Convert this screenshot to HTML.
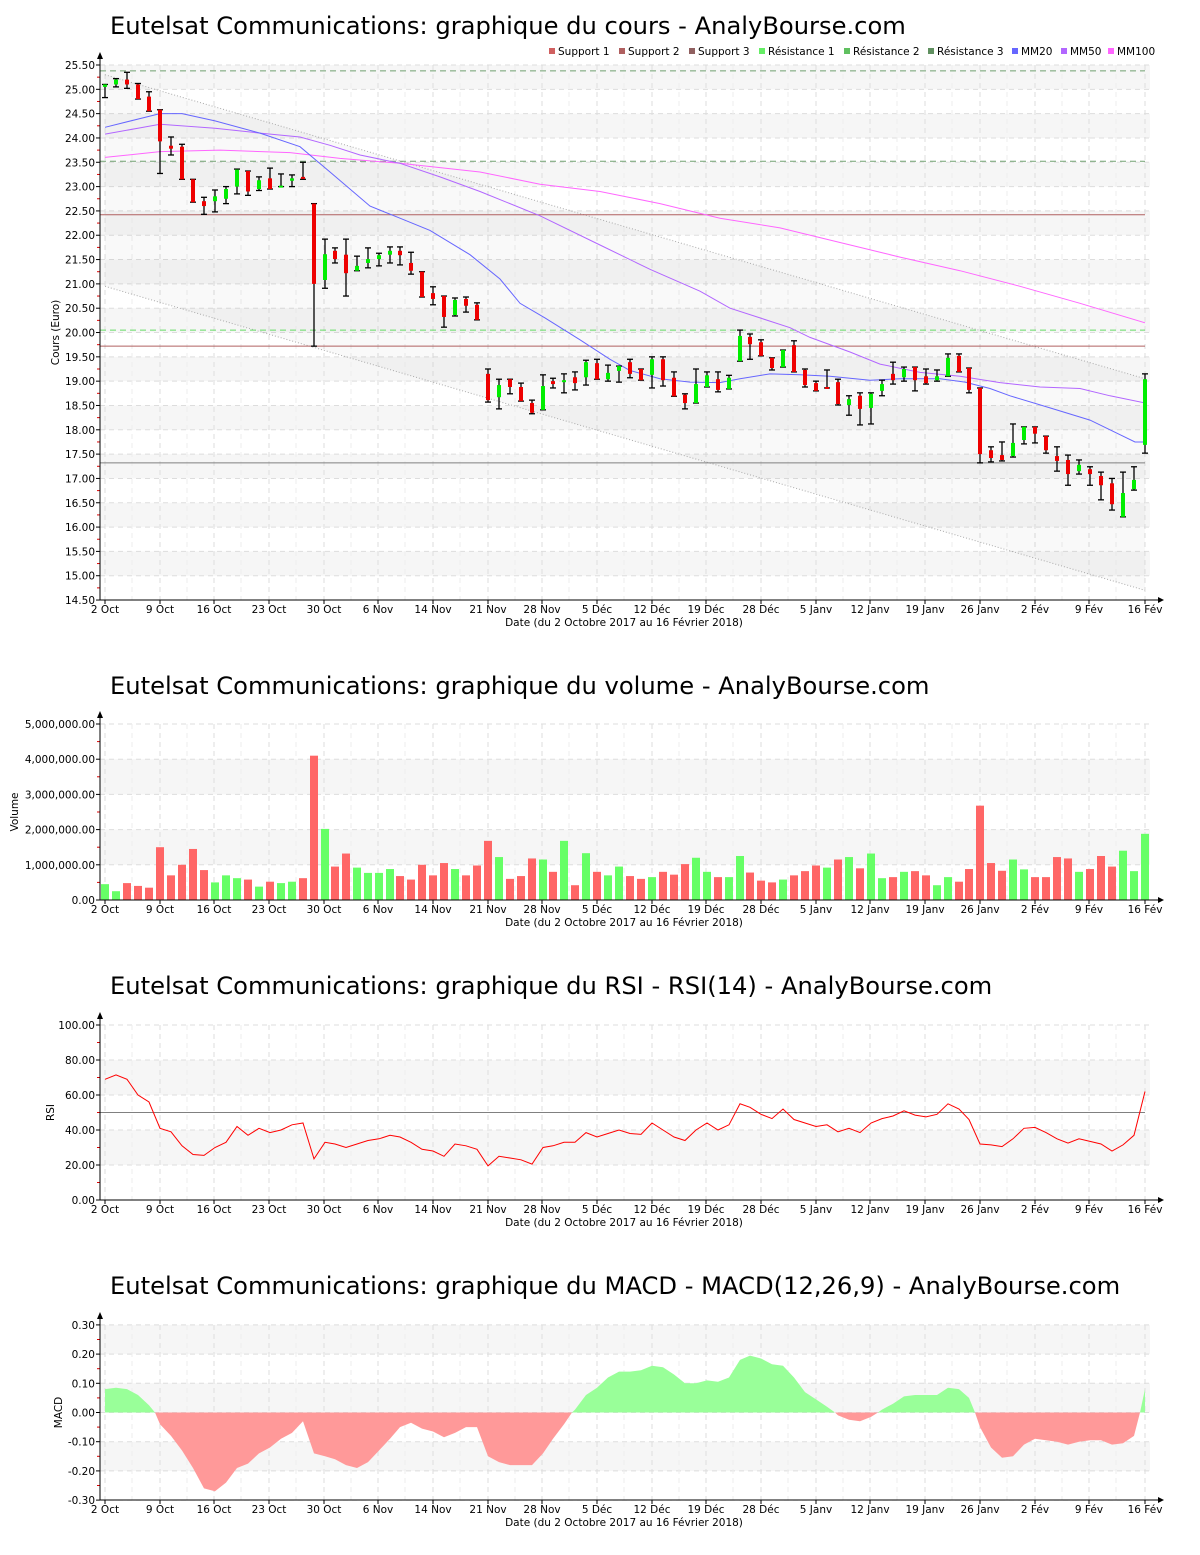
<!DOCTYPE html>
<html><head><meta charset="utf-8"><style>
body{margin:0;background:#fff;width:1200px;height:1550px;overflow:hidden}
svg{font-family:"DejaVu Sans","Liberation Sans",sans-serif}
</style></head><body>
<svg id="s" width="1200" height="1550" xmlns="http://www.w3.org/2000/svg"></svg>
<script>
const S=document.getElementById('s');let h='';
const X0=100,X1=1150;
const dx=[105,160,214,269,324,378,433,488,542,597,652,706,761,816,870,925,980,1035,1089,1145];
const dl=['2 Oct','9 Oct','16 Oct','23 Oct','30 Oct','6 Nov','14 Nov','21 Nov','28 Nov','5 Déc','12 Déc','19 Déc','28 Déc','5 Janv','12 Janv','19 Janv','26 Janv','2 Fév','9 Fév','16 Fév'];
function panel(top,bot,ylab,ticks,lx,band,title,ty,minorTicks){
  h+=`<text x="110" y="${ty}" font-size="24.2" fill="#000">${title}</text>`;
  for(let i=0;i<band.length;i++){const b=band[i];h+=`<rect x="${X0}" y="${b[0]}" width="${X1-X0}" height="${b[1]-b[0]}" fill="#f6f6f6"/>`;}
  ticks.forEach(t=>{h+=`<line x1="${X0}" x2="${X1}" y1="${t[0]}" y2="${t[0]}" stroke="#ddd" stroke-dasharray="5,4"/>`;
    h+=`<line x1="96" x2="100" y1="${t[0]}" y2="${t[0]}" stroke="#000"/><text x="95" y="${t[0]+4}" font-size="10.5" text-anchor="end">${t[1]}</text>`;});
  (minorTicks||[]).forEach(y=>{h+=`<line x1="97" x2="100" y1="${y}" y2="${y}" stroke="#d00"/>`;});
  dx.forEach((x,i)=>{h+=`<line x1="${x}" x2="${x}" y1="${top}" y2="${bot}" stroke="#ddd" stroke-dasharray="5,4"/>`;
    h+=`<line x1="${x}" x2="${x}" y1="${bot}" y2="${bot+4}" stroke="#000"/><text x="${x}" y="${bot+13}" font-size="10.5" text-anchor="middle">${dl[i]}</text>`;
    if(i<19)h+=`<line x1="${x+27}" x2="${x+27}" y1="${top}" y2="${bot}" stroke="#eee" stroke-dasharray="5,4"/>`;});
  h+=`<text x="624" y="${bot+26}" font-size="10.5" text-anchor="middle">Date (du 2 Octobre 2017 au 16 Février 2018)</text>`;
  h+=`<text transform="translate(${lx},${(top+bot)/2}) rotate(-90)" font-size="10.5" text-anchor="middle">${ylab}</text>`;
}
function axes(top,bot){h+=`<line x1="${X0}" x2="${X0}" y1="${top-8}" y2="${bot}" stroke="#000"/><path d="M${X0-3},${top-6}L${X0+3},${top-6}L${X0},${top-13}Z"/>`;
 h+=`<line x1="${X0}" x2="1160" y1="${bot}" y2="${bot}" stroke="#000"/><path d="M1158,${bot-3}L1158,${bot+3}L1164,${bot}Z"/>`;}
const py=p=>65+(25.5-p)*48.64;
let bands=[],tk=[],mn=[];
for(let p=14.5;p<=25.5001;p+=0.5){tk.push([py(p),p.toFixed(2)]);}
for(let p=15;p<25.5;p+=1)bands.push([py(p+0.5),py(p)]);
for(let p=14.75;p<25.5;p+=0.5)mn.push(py(p));
panel(65,600,'Cours (Euro)',tk,59,bands,'Eutelsat Communications: graphique du cours - AnalyBourse.com',34,mn);
h+=`<polygon points="105,${py(25.3)} 1145,${py(19.05)} 1145,${py(14.7)} 105,${py(20.95)}" fill="rgba(0,0,0,0.025)"/>`;
h+=`<line x1="105" y1="${py(25.3)}" x2="1145" y2="${py(19.05)}" stroke="#aaa" stroke-dasharray="1,2"/>`;
h+=`<line x1="105" y1="${py(20.95)}" x2="1145" y2="${py(14.7)}" stroke="#aaa" stroke-dasharray="1,2"/>`;
[[22.42,'#b06060',''],[19.72,'#b06060',''],[17.32,'#808080',''],[25.38,'#70a070','6,4'],[23.52,'#70a070','6,4'],[20.05,'#66dd66','6,4']].forEach(l=>{
 h+=`<line x1="${X0}" x2="1145" y1="${py(l[0])}" y2="${py(l[0])}" stroke="${l[1]}" stroke-dasharray="${l[2]}"/>`;});
function poly(pts,c,f){return `<polyline fill="none" stroke="${c}" stroke-width="1" points="${pts.map(p=>p[0]+','+f(p[1]).toFixed(1)).join(' ')}"/>`;}
h+=poly([[105,23.6],[160,23.72],[220,23.75],[290,23.7],[340,23.58],[400,23.48],[480,23.3],[540,23.05],[600,22.9],[660,22.65],[720,22.35],[780,22.15],[840,21.85],[900,21.55],[960,21.27],[1020,20.95],[1080,20.6],[1145,20.2]],'#ff66ff',py);
h+=poly([[105,24.08],[160,24.28],[215,24.2],[260,24.1],[300,24.02],[330,23.85],[360,23.65],[400,23.48],[440,23.2],[480,22.9],[540,22.4],[600,21.8],[650,21.3],[700,20.85],[730,20.5],[760,20.3],[790,20.1],[810,19.9],[850,19.6],[880,19.35],[920,19.18],[960,19.1],[1000,18.97],[1040,18.88],[1080,18.85],[1110,18.7],[1145,18.55]],'#b266ff',py);
h+=poly([[105,24.22],[160,24.5],[182,24.5],[215,24.35],[260,24.1],[300,23.82],[330,23.3],[370,22.6],[400,22.35],[430,22.1],[470,21.6],[500,21.1],[520,20.6],[545,20.3],[580,19.85],[610,19.45],[630,19.22],[660,19.05],[690,18.98],[720,18.97],[740,19.05],[770,19.15],[800,19.13],[830,19.1],[870,19.02],[900,19.05],[940,19.05],[965,18.98],[990,18.85],[1010,18.7],[1050,18.45],[1090,18.2],[1120,17.9],[1135,17.75],[1145,17.75]],'#6666ff',py);
const C=[[105,25.1,25.05,25.1,24.83,'g'],[116,25.2,25.1,25.22,25.05,'g'],[127,25.2,25.1,25.35,25.02,'r'],[138,25.1,24.8,25.12,24.8,'r'],[149,24.85,24.55,24.95,24.55,'r'],[160,24.58,23.93,24.58,23.27,'r'],[171,23.84,23.78,24.02,23.65,'r'],[182,23.82,23.15,23.87,23.15,'r'],[193,23.15,22.68,23.15,22.68,'r'],[204,22.7,22.6,22.78,22.43,'r'],[215,22.8,22.7,22.93,22.48,'g'],[226,22.95,22.75,23.0,22.65,'g'],[237,23.35,23.0,23.36,22.85,'g'],[248,23.32,22.9,23.32,22.82,'r'],[259,23.13,22.95,23.2,22.92,'g'],[270,23.17,22.95,23.38,22.95,'r'],[281,23.02,23.0,23.26,23.0,'g'],[292,23.17,23.12,23.24,23.0,'g'],[303,23.2,23.17,23.5,23.15,'r'],[314,22.65,21.0,22.65,19.72,'r'],
[325,21.61,21.08,21.92,20.91,'g'],[335,21.68,21.51,21.74,21.43,'r'],[346,21.6,21.22,21.92,20.75,'r'],[357,21.37,21.27,21.57,21.27,'g'],[368,21.51,21.43,21.74,21.33,'g'],[379,21.59,21.51,21.63,21.37,'g'],[390,21.68,21.6,21.76,21.43,'g'],[400,21.68,21.59,21.76,21.39,'r'],[411,21.43,21.27,21.65,21.2,'r'],[422,21.25,20.73,21.25,20.73,'r'],[433,20.81,20.69,20.94,20.57,'r'],[444,20.75,20.32,20.75,20.11,'r'],[455,20.67,20.36,20.71,20.34,'g'],[466,20.69,20.55,20.73,20.42,'r'],[477,20.57,20.26,20.61,20.26,'r'],
[488,19.15,18.61,19.25,18.57,'r'],[499,18.92,18.67,19.04,18.43,'g'],[510,19.04,18.88,19.04,18.74,'r'],[521,18.88,18.59,18.96,18.59,'r'],[532,18.55,18.35,18.61,18.33,'r'],[543,18.9,18.41,19.13,18.41,'g'],[553,19.0,18.94,19.06,18.86,'r'],[564,19.02,18.98,19.15,18.76,'g'],[575,19.08,18.96,19.19,18.82,'r'],[586,19.39,19.08,19.43,18.92,'g'],[597,19.37,19.04,19.45,19.04,'r'],[608,19.17,19.04,19.33,19.0,'g'],[619,19.31,19.21,19.31,18.98,'g'],
[630,19.39,19.15,19.45,19.07,'r'],[641,19.25,19.02,19.25,19.02,'r'],[652,19.45,19.13,19.5,18.86,'g'],[663,19.45,19.02,19.5,18.9,'r'],[674,19.07,18.69,19.19,18.69,'r'],[685,18.72,18.55,18.74,18.43,'r'],[696,18.94,18.55,19.25,18.55,'g'],[707,19.12,18.88,19.19,18.88,'g'],[718,19.04,18.82,19.19,18.78,'r'],[729,19.07,18.84,19.12,18.84,'g'],[740,19.93,19.41,20.05,19.41,'g'],[750,19.91,19.76,19.97,19.45,'r'],[761,19.8,19.52,19.85,19.52,'r'],[772,19.48,19.27,19.48,19.23,'r'],[783,19.64,19.29,19.64,19.29,'g'],[794,19.74,19.19,19.83,19.19,'r'],[805,19.23,18.92,19.25,18.88,'r'],[816,18.96,18.8,19.0,18.8,'r'],[827,18.88,18.86,19.23,18.86,'r'],[838,18.98,18.53,19.04,18.51,'r'],[849,18.63,18.51,18.7,18.3,'g'],[860,18.7,18.43,18.76,18.1,'r'],[871,18.74,18.45,18.76,18.12,'g'],[882,18.94,18.8,19.02,18.7,'g'],[893,19.15,19.02,19.39,18.94,'r'],[904,19.25,19.08,19.29,19.0,'g'],[915,19.29,19.02,19.29,18.8,'r'],[926,19.1,18.96,19.25,18.94,'r'],[937,19.1,19.02,19.23,19.0,'g'],[948,19.48,19.1,19.56,19.1,'g'],[959,19.52,19.19,19.56,19.19,'r'],
[969,19.27,18.82,19.27,18.76,'r'],[980,18.86,17.5,18.86,17.32,'r'],[991,17.58,17.42,17.65,17.34,'r'],[1002,17.48,17.38,17.75,17.36,'r'],[1013,17.73,17.46,18.12,17.44,'g'],[1024,18.06,17.79,18.06,17.71,'g'],[1035,18.06,17.92,18.06,17.73,'r'],[1046,17.87,17.58,17.87,17.52,'r'],[1057,17.46,17.36,17.65,17.15,'r'],[1068,17.38,17.09,17.48,16.86,'r'],[1079,17.28,17.15,17.38,17.09,'g'],[1090,17.19,17.09,17.24,16.86,'r'],[1101,17.05,16.86,17.13,16.56,'r'],[1112,16.9,16.47,17.0,16.35,'r'],[1123,16.7,16.21,17.13,16.21,'g'],[1134,16.97,16.78,17.24,16.76,'g'],[1145,19.04,17.69,19.15,17.52,'g']];
C.forEach(c=>{const x=c[0];const yh=py(c[3]),yl=py(c[4]);
 h+=`<line x1="${x}" x2="${x}" y1="${yh}" y2="${yl}" stroke="#000" stroke-width="1.3"/><line x1="${x-3}" x2="${x+3}" y1="${yh}" y2="${yh}" stroke="#000" stroke-width="1.3"/><line x1="${x-3}" x2="${x+3}" y1="${yl}" y2="${yl}" stroke="#000" stroke-width="1.3"/>`;
 const t=py(c[1]),b=py(c[2]);h+=`<rect x="${x-2}" y="${t}" width="4" height="${Math.max(b-t,2)}" fill="${c[5]=='g'?'#00ee00':'#ee0000'}"/>`;});
axes(65,600);
[[552,'#d06060','Support 1'],[622,'#b06060','Support 2'],[692,'#906060','Support 3'],[762,'#66ee66','Résistance 1'],[847,'#60c060','Résistance 2'],[931,'#609060','Résistance 3'],[1015,'#6666ff','MM20'],[1064,'#b266ff','MM50'],[1111,'#ff66ff','MM100']].forEach(l=>{
 h+=`<rect x="${l[0]-3}" y="48" width="6" height="6" fill="${l[1]}"/><text x="${l[0]+6}" y="55" font-size="10.5">${l[2]}</text>`;});
const vy=v=>900-v*35.2;
tk=[];bands=[];mn=[];
for(let v=0;v<=5;v++)tk.push([vy(v),(v?v+',000,000.00':'0.00')]);
for(let v=0;v<5;v++)mn.push(vy(v+0.5));
bands=[[vy(4),vy(3)],[vy(2),vy(1)]];
panel(724,900,'Volume',tk,18,bands,'Eutelsat Communications: graphique du volume - AnalyBourse.com',694,mn);
const V=[0.45,'g',0.25,'g',0.48,'r',0.4,'r',0.35,'r',1.5,'r',0.7,'r',1.0,'r',1.45,'r',0.85,'r',0.5,'g',0.7,'g',0.62,'g',0.58,'r',0.38,'g',0.52,'r',0.48,'g',0.52,'g',0.62,'r',4.1,'r',2.02,'g',0.95,'r',1.32,'r',0.92,'g',0.77,'g',0.77,'g',0.88,'g',0.68,'r',0.58,'r',1.0,'r',0.7,'r',1.05,'r',0.88,'g',0.7,'r',0.98,'r',1.68,'r',1.22,'g',0.6,'r',0.68,'r',1.18,'r',1.15,'g',0.8,'r',1.68,'g',0.42,'r',1.33,'g',0.8,'r',0.7,'g',0.95,'g',0.68,'r',0.6,'r',0.65,'g',0.8,'r',0.72,'r',1.02,'r',1.2,'g',0.8,'g',0.65,'r',0.65,'g',1.25,'g',0.78,'r',0.55,'r',0.5,'r',0.58,'g',0.7,'r',0.82,'r',0.98,'r',0.92,'g',1.15,'r',1.22,'g',0.9,'r',1.32,'g',0.62,'g',0.65,'r',0.8,'g',0.82,'r',0.7,'r',0.42,'g',0.65,'g',0.52,'r',0.88,'r',2.68,'r',1.05,'r',0.83,'r',1.15,'g',0.87,'g',0.65,'r',0.65,'r',1.22,'r',1.18,'r',0.8,'g',0.88,'r',1.25,'r',0.95,'r',1.4,'g',0.82,'g',1.88,'g'];
for(let i=0;i<V.length/2;i++){const x=C[i][0],v=V[2*i];h+=`<rect x="${x-4}" y="${vy(v)}" width="8" height="${v*35.2}" fill="${V[2*i+1]=='g'?'#66ff66':'#ff6666'}"/>`;}
axes(724,900);
const ry=v=>1200-v*1.75;
tk=[];mn=[];for(let v=0;v<=100;v+=20){tk.push([ry(v),v.toFixed(2)]);}for(let v=10;v<100;v+=20)mn.push(ry(v));
panel(1025,1200,'RSI',tk,54,[[ry(80),ry(60)],[ry(40),ry(20)]],'Eutelsat Communications: graphique du RSI - RSI(14) - AnalyBourse.com',994,mn);
h+=`<line x1="${X0}" x2="1145" y1="${ry(50)}" y2="${ry(50)}" stroke="#808080"/>`;
const R=[69,71.5,69,60,56,41,39,31,26,25.5,30,33,42,37,41,38.5,40,43,44,23.5,33,32,30,32,34,35,37,36,33,29,28,25,32,31,29,19.5,25,24,23,20.5,30,31,33,33,38.5,36,38,40,38,37.5,44,40,36,34,40,44,40,43,55,53,49,46.5,52,46,44,42,43,39,41,38.5,44,46.5,48,51,48.5,47.5,49,55,52,46,32,31.5,30.5,35,41,41.5,38.5,35,32.5,35,33.5,32,28,31.5,37,62];
h+=poly(R.map((v,i)=>[C[i][0],v]),'#ff0000',ry);
axes(1025,1200);
const my=v=>1412.5-v*292;
tk=[];mn=[];for(let v=-3;v<=3;v++){tk.push([my(v/10),(v/10).toFixed(2)]);}for(let v=-2.5;v<3;v++)mn.push(my(v/10));
panel(1325,1500,'MACD',tk,62,[[my(0.3),my(0.2)],[my(0.1),my(0)],[my(-0.1),my(-0.2)]],'Eutelsat Communications: graphique du MACD - MACD(12,26,9) - AnalyBourse.com',1294,mn);
const M=[[105,0.08],[116,0.085],[127,0.08],[138,0.06],[149,0.025],[155,0],[160,-0.04],[171,-0.08],[182,-0.13],[193,-0.19],[204,-0.26],[215,-0.27],[226,-0.24],[237,-0.19],[248,-0.175],[259,-0.14],[270,-0.12],[281,-0.09],[292,-0.07],[303,-0.03],[314,-0.14],[325,-0.15],[335,-0.16],[346,-0.18],[357,-0.19],[368,-0.17],[379,-0.13],[390,-0.09],[400,-0.05],[411,-0.035],[422,-0.055],[433,-0.065],[444,-0.085],[455,-0.07],[466,-0.05],[477,-0.05],[488,-0.15],[499,-0.17],[510,-0.18],[521,-0.18],[532,-0.18],[543,-0.14],[553,-0.09],[564,-0.04],[572,0],[575,0.01],[586,0.06],[597,0.085],[608,0.12],[619,0.14],[630,0.14],[641,0.145],[652,0.16],[663,0.155],[674,0.13],[685,0.1],[696,0.1],[707,0.11],[718,0.105],[729,0.12],[740,0.18],[750,0.195],[761,0.185],[772,0.165],[783,0.16],[794,0.12],[805,0.07],[816,0.045],[827,0.02],[835,0],[838,-0.01],[849,-0.025],[860,-0.03],[871,-0.015],[878,0],[882,0.01],[893,0.03],[904,0.055],[915,0.06],[926,0.06],[937,0.06],[948,0.085],[959,0.08],[969,0.05],[975,0],[980,-0.05],[991,-0.12],[1002,-0.155],[1013,-0.15],[1024,-0.11],[1035,-0.09],[1046,-0.095],[1057,-0.1],[1068,-0.11],[1079,-0.1],[1090,-0.095],[1101,-0.095],[1112,-0.11],[1123,-0.105],[1134,-0.08],[1140,0],[1145,0.08]];
function area(f,c){let p=`105,${my(0)} `+M.map(m=>m[0]+','+my(f(m[1])).toFixed(1)).join(' ')+` 1145,${my(0)}`;h+=`<polygon points="${p}" fill="${c}"/>`;}
area(v=>Math.max(v,0),'#99ff99');area(v=>Math.min(v,0),'#ff9999');
axes(1325,1500);
S.innerHTML=h;
</script>
</body></html>
